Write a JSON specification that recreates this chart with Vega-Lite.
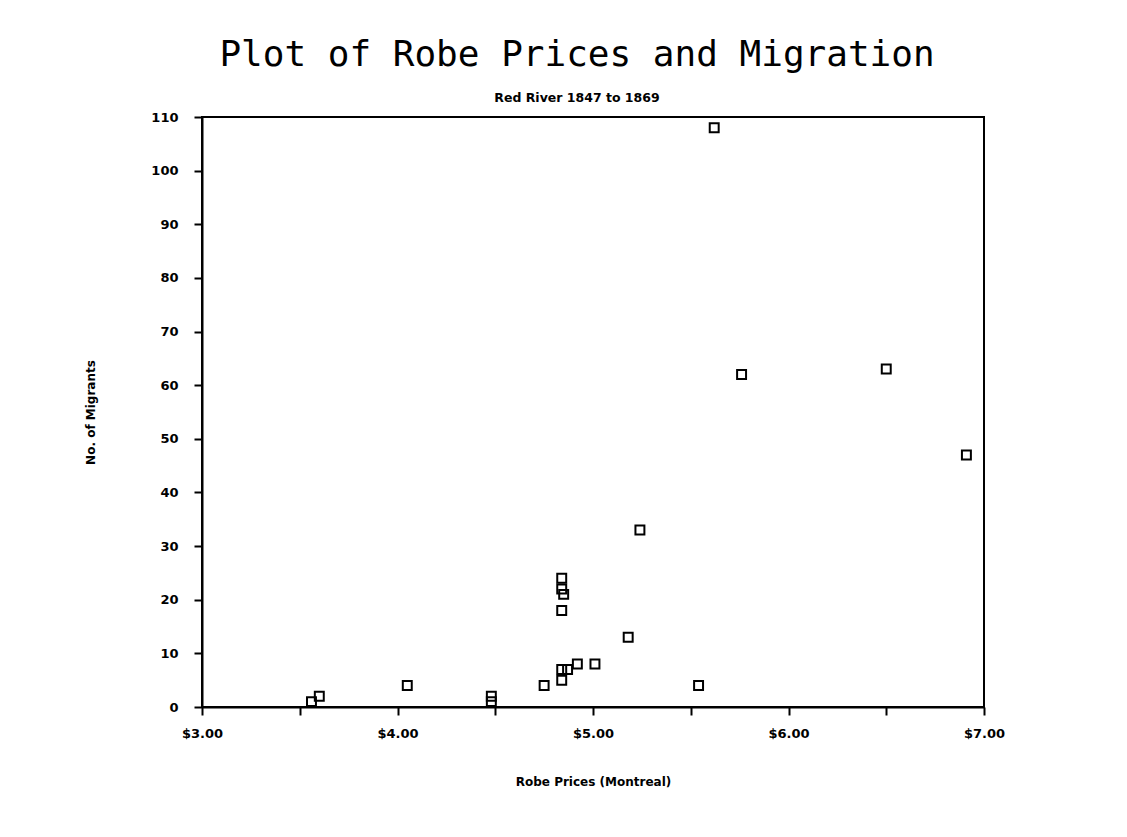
{
  "$schema": "https://vega.github.io/schema/vega-lite/v6.json",
  "autosize": "none",
  "width": 782,
  "height": 590,
  "padding": {"left": 202, "top": 117, "right": 143, "bottom": 130},
  "background": "white",
  "title": {
    "text": "Plot of Robe Prices and Migration",
    "subtitle": "Red River 1847 to 1869",
    "anchor": "middle",
    "font": "DejaVu Sans Mono",
    "fontSize": 36,
    "fontWeight": "normal",
    "color": "black",
    "subtitleFont": "DejaVu Sans",
    "subtitleFontSize": 12.5,
    "subtitleFontWeight": "bold",
    "subtitleColor": "black",
    "subtitlePadding": 18,
    "offset": 6,
    "dx": -16
  },
  "config": {
    "view": {"stroke": "black", "strokeWidth": 2},
    "axis": {
      "domainColor": "black",
      "domainWidth": 2,
      "tickColor": "black",
      "tickWidth": 2,
      "tickSize": 8,
      "grid": false,
      "labelFont": "DejaVu Sans",
      "labelFontWeight": "bold",
      "labelFontSize": 13,
      "labelColor": "black",
      "titleFont": "DejaVu Sans",
      "titleFontWeight": "bold",
      "titleFontSize": 12,
      "titleColor": "black"
    }
  },
  "data": {
    "values": [
      {"price": 3.56, "migrants": 1},
      {"price": 3.60, "migrants": 2},
      {"price": 4.05, "migrants": 4},
      {"price": 4.48, "migrants": 2},
      {"price": 4.48, "migrants": 1},
      {"price": 4.75, "migrants": 4},
      {"price": 4.84, "migrants": 7},
      {"price": 4.87, "migrants": 7},
      {"price": 4.84, "migrants": 5},
      {"price": 4.92, "migrants": 8},
      {"price": 5.01, "migrants": 8},
      {"price": 4.84, "migrants": 24},
      {"price": 4.84, "migrants": 22},
      {"price": 4.85, "migrants": 21},
      {"price": 4.84, "migrants": 18},
      {"price": 5.18, "migrants": 13},
      {"price": 5.24, "migrants": 33},
      {"price": 5.54, "migrants": 4},
      {"price": 5.62, "migrants": 108},
      {"price": 5.76, "migrants": 62},
      {"price": 6.50, "migrants": 63},
      {"price": 6.91, "migrants": 47}
    ]
  },
  "mark": {"type": "point", "shape": "square", "filled": false, "size": 80, "stroke": "black", "strokeWidth": 2, "opacity": 1},
  "encoding": {
    "x": {
      "field": "price",
      "type": "quantitative",
      "scale": {"domain": [3, 7], "nice": false, "zero": false},
      "axis": {
        "title": "Robe Prices (Montreal)",
        "values": [3, 3.5, 4, 4.5, 5, 5.5, 6, 6.5, 7],
        "labelExpr": "datum.value % 1 == 0 ? '$' + format(datum.value, '.2f') : ''",
        "labelPadding": 12,
        "titlePadding": 36,
        "labelFlush": false
      }
    },
    "y": {
      "field": "migrants",
      "type": "quantitative",
      "scale": {"domain": [0, 110], "nice": false},
      "axis": {
        "title": "No. of Migrants",
        "values": [0, 10, 20, 30, 40, 50, 60, 70, 80, 90, 100, 110],
        "labelPadding": 16,
        "titlePadding": 53,
        "labelFlush": false
      }
    }
  }
}
